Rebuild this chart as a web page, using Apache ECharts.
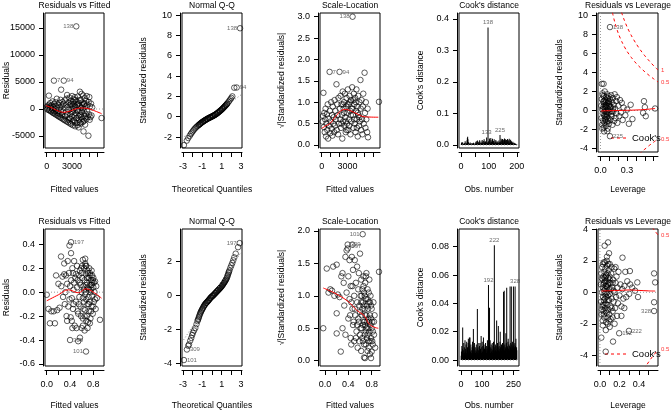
<!DOCTYPE html>
<html><head><meta charset="utf-8">
<script src="https://cdn.jsdelivr.net/npm/echarts@6/dist/echarts.min.js"></script>
<style>html,body{margin:0;padding:0;background:#fff}#c{width:672px;height:413px}</style>
</head><body><div id="c"></div>
<script>
// ================= DATA =================
// Top row model
const rvf1 = [[30,350],[80,-60],[120,620],[180,150],[220,-180],[260,2470],[300,800],[340,-250],[380,420],[420,1100],[470,-380],[520,250],[560,-500],[610,650],[650,-120],[700,1400],[740,-680],[790,320],[830,-780],[860,5250],[880,900],[920,-450],[960,80],[1000,-950],[1040,1250],[1080,-300],[1120,550],[1160,-1100],[1200,1900],[1240,-700],[1280,150],[1320,-1250],[1360,750],[1400,-400],[1440,-1380],[1480,1150],[1520,-900],[1560,300],[1600,-1550],[1640,1700],[1680,-200],[1716,3580],[1740,-1650],[1780,600],[1820,-1100],[1860,1300],[1900,-1850],[1940,-500],[1980,900],[2030,5250],
[2060,-2000],[2100,200],[2140,1600],[2180,-1300],[2220,-2150],[2260,700],[2300,-600],[2340,1900],[2380,-2300],[2420,2600],[2460,-1000],[2500,400],[2540,-2450],[2580,1200],[2620,-200],[2660,-1700],[2700,2100],[2740,-2650],[2780,800],[2820,-900],[2860,1500],[2900,-2800],[2940,100],[2980,-1400],[3020,2400],[3060,600],[3100,-3000],[3140,-500],[3180,1800],[3220,-2100],[3260,1000],[3300,-1200],[3340,2200],[3380,-3200],[3420,300],[3460,-800],[3510,15300],[3540,1400],[3580,-2600],[3620,700],[3660,-1600],[3700,2300],[3740,-300],[3780,-3400],[3820,1100],[3860,-2000],[3900,500],[3940,3200],[3980,-1100],[4020,1700],[4060,-2700],[4100,200],[4140,2800],[4180,-600],[4220,-1800],[4260,1200],[4300,-2400],[4340,2500],[4370,-4150],[4400,-300],[4440,900],[4480,-1300],[4520,2000],[4560,-2900],[4600,400],[4640,-900],[4680,1500],[4720,-1900],[4760,2400],[4800,-400],[4840,800],[4880,-1500],[4950,-4950],[4980,1300],[5020,-1000],[5060,2200],[5100,-2000],[5140,500],[5200,-1500],[5260,1000],[5320,-1200],[5400,300],[6510,-1670],
[2900,900],[3000,-600],[3100,1300],[3200,-100],[3300,500],[3400,1700],[3500,-1700],[3600,-200],[3700,900],[3800,-1300],[3900,1600],[4000,-400],[4100,-1500],[4200,700],[4300,100],[4400,-2200],[4500,1000],[4600,-1600],[3050,-2300],[3350,-2500],[3650,-3000],[3950,-2500],[2800,-1800],[2600,-2000]];
const rvf1Smooth = [[-100,620],[500,300],[860,0],[1500,-450],[2030,-620],[2800,-370],[3400,0],[3980,185],[4760,120],[5540,-250],[6320,-740],[6510,-850]];
const rvf1Labels = [['138',3510,15300],['7',860,5250],['94',2030,5250]];

const qq1 = [[-2.9,-2.8],[-2.6,-2.35],[-2.45,-2.1],[-2.3,-1.88],[-2.2,-1.72],[-2.1,-1.58],[-2.0,-1.45],[-1.9,-1.32],[-1.8,-1.2],[-1.7,-1.1],[-1.6,-1.0],[-1.5,-0.92],[-1.4,-0.84],[-1.3,-0.76],[-1.2,-0.68],[-1.1,-0.6],[-1.0,-0.53],[-0.9,-0.46],[-0.8,-0.4],[-0.7,-0.34],[-0.6,-0.28],[-0.5,-0.22],[-0.4,-0.17],[-0.3,-0.12],[-0.2,-0.07],[-0.1,-0.03],[0.0,0.02],[0.1,0.07],[0.2,0.12],[0.3,0.18],[0.4,0.24],[0.5,0.31],[0.6,0.38],[0.7,0.46],[0.8,0.54],[0.9,0.62],[1.0,0.71],[1.1,0.8],[1.2,0.9],[1.3,1.0],[1.4,1.1],[1.5,1.2],[1.6,1.32],[1.7,1.45],[1.8,1.58],[1.9,1.72],[2.0,1.85],[2.1,2.0],[2.3,2.85],[2.55,2.87],[2.9,8.7],
[-0.95,-0.5],[-0.85,-0.43],[-0.75,-0.37],[-0.65,-0.31],[-0.55,-0.25],[-0.45,-0.2],[-0.35,-0.14],[-0.25,-0.1],[-0.15,-0.05],[-0.05,0.0],[0.05,0.05],[0.15,0.1],[0.25,0.15],[0.35,0.21],[0.45,0.27],[0.55,0.34],[0.65,0.42],[0.75,0.5],[0.85,0.58],[0.95,0.66],[-1.35,-0.8],[-1.25,-0.72],[-1.15,-0.64],[-1.05,-0.56],[1.05,0.75],[1.15,0.85],[1.25,0.95],[1.35,1.05],[1.45,1.15],[1.55,1.26]];
const qq1Line = [[-3.1,-2.12],[3.1,2.22]];
const qq1Labels = [['138',2.9,8.7],['94',2.55,2.87]];

const sl1 = [[100,0.55],[150,0.68],[200,1.22],[250,0.42],[300,0.75],[350,0.3],[400,0.6],[450,0.85],[500,0.2],[550,0.5],[600,0.72],[650,0.35],[700,0.95],[750,0.15],[800,0.62],[850,0.45],[920,1.71],[950,0.8],[1000,0.28],[1050,0.55],[1100,1.0],[1150,0.38],[1200,0.7],[1250,0.22],[1300,0.9],[1350,0.5],[1400,0.65],[1450,0.3],[1500,1.05],[1550,0.45],[1600,0.8],[1650,0.6],[1720,1.42],[1750,0.35],[1800,0.95],[1850,0.7],[1900,0.25],[1950,1.1],[2000,0.5],[2080,1.71],[2100,0.85],[2150,0.6],[2200,1.15],[2250,0.4],[2300,0.95],[2350,0.7],[2400,0.15],[2450,1.25],[2500,0.55],[2550,0.85],[2600,1.0],[2650,0.45],[2700,1.2],[2750,0.65],[2800,0.3],[2850,0.9],[2900,1.1],[2950,0.5],[3000,0.75],[3050,1.3],[3100,0.35],[3150,0.95],[3200,0.6],[3250,1.15],[3300,0.8],[3350,0.25],[3400,1.05],[3450,0.55],[3500,0.85],[3550,1.35],[3600,3.0],[3650,0.7],[3700,0.4],[3750,1.2],[3800,0.95],[3850,0.5],[3900,1.1],[3950,0.3],[4000,0.8],[4050,1.3],[4100,0.6],[4150,0.9],[4200,0.2],[4250,1.15],[4300,0.7],[4350,0.45],[4400,1.0],[4450,0.55],[4520,1.52],[4550,0.85],[4600,0.35],[4650,1.05],[4700,0.6],[4750,0.25],[4800,0.9],[4850,1.2],[4900,0.5],[5000,1.69],[5050,0.75],[5100,0.4],[5150,1.0],[5200,0.6],[5300,0.3],[5350,0.85],[5400,0.18],[6680,1.01],
[2600,0.75],[2800,0.55],[3000,0.95],[3200,0.45],[3400,0.7],[3600,0.85],[3800,0.6],[4000,1.0],[4200,0.75],[4400,0.65],[2900,0.35],[3300,1.0],[3700,1.05],[4100,0.4],[2500,0.95],[2300,0.5]];
const sl1Smooth = [[0,0.39],[500,0.45],[1000,0.51],[1600,0.66],[2400,0.82],[2800,0.83],[3800,0.76],[5000,0.66],[6600,0.65]];
const sl1Labels = [['138',3600,3.0],['7',920,1.71],['94',2080,1.71]];

const cook1 = [.002,.008,.003,.001,.005,.009,.002,.004,.001,.003,
.002,.006,.001,.004,.012,.003,.002,.007,.001,.005,
.003,.015,.022,.026,.018,.004,.009,.002,.006,.001,
.003,.002,.008,.001,.004,.002,.005,.003,.001,.006,
.002,.004,.001,.003,.007,.002,.001,.005,.002,.003,
.001,.004,.009,.002,.012,.003,.006,.001,.014,.004,
.002,.008,.003,.010,.001,.005,.015,.002,.007,.004,
.003,.011,.002,.006,.001,.016,.004,.009,.002,.013,
.005,.003,.018,.002,.008,.011,.004,.011,.003,.006,
.002,.024,.005,.009,.003,.007,.373,.004,.012,.002,
.006,.021,.003,.017,.008,.002,.022,.005,.010,.003,
.015,.004,.020,.002,.009,.006,.013,.003,.018,.004,
.007,.002,.011,.005,.016,.003,.008,.002,.012,.004,
.006,.010,.003,.007,.002,.014,.005,.009,.004,.032,
.003,.011,.006,.020,.004,.015,.008,.002,.019,.005,
.012,.003,.017,.006,.009,.021,.004,.013,.002,.018,
.007,.003,.016,.005,.010,.002,.019,.006,.011,.004,
.015,.003,.020,.007,.002,.014,.005,.017,.009,.003,
.012,.004,.008,.002,.006,.010,.003,.005,.002,.007,
.004,.002,.006,.003,.001,.004,.002,.003,.001,.002];
const cook1Labels = [['138',97,0.373],['133',92,0.024],['225',140,0.032]];

const lev1 = [[0.107,8.76],[0.015,2.8],[0.035,2.8],[0.077,-2.17],[0.107,-2.7],[0.49,0.98],[0.5,0.35],[0.48,-0.25],[0.51,-0.6],[0.615,0.21],
[0.01,0.5],[0.012,-0.8],[0.015,1.2],[0.018,-1.5],[0.02,0.1],[0.022,1.8],[0.025,-0.3],[0.028,0.9],[0.03,-1.1],[0.032,0.4],[0.035,-1.8],[0.038,1.5],[0.04,-0.5],[0.042,0.7],[0.045,-1.3],[0.048,2.0],[0.05,0.2],[0.052,-0.9],[0.055,1.1],[0.058,-0.1],[0.06,-1.6],[0.062,0.6],[0.065,1.4],[0.068,-0.7],[0.07,0.3],[0.072,-1.2],[0.075,1.7],[0.078,-0.4],[0.08,0.8],[0.082,-1.9],[0.085,0.0],[0.088,1.0],[0.09,-0.8],[0.092,1.5],[0.095,-1.4],[0.098,0.5],[0.1,-0.2],[0.105,1.2],[0.11,-1.0],[0.115,0.3],[0.12,1.6],[0.125,-0.6],[0.13,0.9],[0.135,-1.5],[0.14,1.3],[0.145,-0.1],[0.15,0.6],[0.155,-1.1],[0.16,1.7],[0.165,0.2],[0.17,-0.8],[0.175,1.0],[0.18,-0.3],[0.185,1.4],[0.19,-1.3],[0.2,0.5],[0.21,-0.6],[0.22,1.1],[0.23,-0.2],[0.24,0.8],[0.25,-1.0],[0.26,0.3],[0.28,-0.5],[0.3,0.1],[0.32,-1.4],[0.34,0.6],[0.36,-0.9],
[0.03,0.2],[0.04,1.0],[0.05,-0.6],[0.06,0.9],[0.07,-0.2],[0.08,1.3],[0.09,0.1],[0.1,0.7],[0.045,-0.1],[0.055,0.4],[0.065,-0.4],[0.075,0.5],[0.085,-1.1],[0.095,0.9],[0.11,0.4],[0.12,-0.4],[0.13,-0.1],[0.14,0.2],[0.06,-1.0],[0.04,-2.2],[0.025,1.6],[0.02,-1.9]];
const lev1Smooth = [[0.005,-0.05],[0.1,-0.02],[0.2,0.0],[0.3,0.02],[0.4,0.05],[0.5,0.1],[0.615,0.21]];
const lev1Labels = [['138',0.107,8.76],['225',0.107,-2.7]];
const lev1Cook05 = [[0.135,10.28],[0.14,10.07],[0.16,9.31],[0.2,8.12],[0.25,7.04],[0.3,6.2],[0.35,5.54],[0.4,4.97],[0.45,4.49],[0.5,4.06],[0.55,3.67],[0.6,3.32],[0.648,3.0]];
const lev1Cook1 = [[0.237,10.31],[0.26,9.69],[0.3,8.77],[0.35,7.83],[0.4,7.04],[0.45,6.35],[0.5,5.74],[0.55,5.2],[0.6,4.69],[0.648,4.25]];
const lev1Cook05n = [[0.44,-4.58],[0.47,-4.27],[0.5,-4.06],[0.55,-3.67],[0.6,-3.32],[0.648,-3.0]];
const lev1CookLabels = [['1',0.648,4.25],['0.5',0.648,3.0],['0.5',0.648,-3.0]];

// Bottom row model
const rvf2 = [[0.0,-0.022],[0.03,-0.14],[0.055,-0.26],[0.08,-0.16],[0.12,-0.16],[0.14,-0.26],[0.16,0.14],[0.18,-0.15],[0.2,0.07],[0.22,-0.13],[0.245,0.298],[0.25,0.05],[0.27,0.13],[0.28,-0.04],[0.3,0.24],[0.3,0.15],[0.31,-0.1],[0.32,0.0],[0.33,0.14],[0.34,-0.2],[0.35,0.07],[0.36,0.26],[0.37,-0.12],[0.38,0.16],[0.39,0.39],[0.4,-0.4],[0.4,0.05],[0.41,-0.21],[0.417,0.418],[0.417,0.326],[0.42,0.1],[0.43,-0.05],[0.44,0.2],[0.45,-0.14],[0.46,0.02],[0.47,0.26],[0.48,-0.28],[0.49,0.12],[0.5,-0.08],[0.5,0.15],[0.51,-0.3],[0.52,0.04],[0.53,0.1],[0.54,-0.41],[0.54,-0.18],[0.55,0.14],[0.56,-0.04],[0.57,-0.38],[0.57,0.08],[0.58,-0.12],[0.59,0.2],[0.6,-0.3],[0.6,0.0],[0.61,0.12],[0.62,-0.22],[0.62,0.27],[0.63,0.05],[0.64,-0.08],[0.64,0.2],[0.65,-0.32],[0.65,0.1],[0.66,-0.15],[0.66,0.24],[0.67,0.0],[0.674,-0.496],[0.67,0.15],[0.68,-0.06],[0.68,0.22],[0.69,-0.2],[0.69,0.08],[0.7,-0.1],[0.7,0.18],[0.71,0.03],[0.71,-0.25],[0.72,0.12],[0.72,-0.04],[0.73,0.2],[0.73,-0.16],[0.74,0.06],[0.74,-0.08],[0.75,0.14],[0.75,-0.22],[0.76,0.02],[0.76,0.1],[0.77,-0.12],[0.77,0.18],[0.78,-0.03],[0.78,0.08],[0.79,-0.18],[0.8,0.04],[0.8,0.12],[0.81,-0.08],[0.82,0.0],[0.83,0.09],[0.84,-0.14],[0.85,0.05],[0.86,-0.05],[0.914,-0.231],
[0.55,-0.1],[0.58,0.06],[0.6,0.16],[0.62,-0.05],[0.64,0.02],[0.66,-0.02],[0.68,0.06],[0.7,0.04],[0.72,-0.1],[0.74,0.16],[0.76,-0.16],[0.78,0.14],[0.8,-0.12],[0.63,-0.14],[0.67,0.22],[0.71,0.16],[0.75,0.0],[0.79,0.1],[0.83,-0.06],[0.65,-0.2],[0.69,0.12],[0.73,0.02],[0.77,0.06],[0.81,0.08],[0.61,0.22],[0.59,-0.2],[0.57,0.18],[0.53,-0.16],[0.47,0.08],[0.45,0.16],[0.43,-0.24],[0.39,-0.06],[0.35,-0.24],[0.44,-0.3],[0.46,-0.1],[0.52,0.22],[0.7,-0.3],[0.74,-0.26],[0.62,-0.28],[0.66,0.28],[0.68,-0.24]];
const rvf2Smooth = [[0,-0.072],[0.2,-0.022],[0.37,0.02],[0.543,-0.005],[0.67,0.028],[0.8,0.0],[0.94,-0.05]];
const rvf2Labels = [['197',0.417,0.418],['309',0.4,-0.4],['101',0.674,-0.496]];

const qq2 = [[-2.9,-3.79],[-2.59,-3.17],[-2.45,-2.95],[-2.38,-2.87],[-2.25,-2.65],[-2.14,-2.49],[-2.05,-2.32],[-1.97,-2.19],[-1.85,-2.05],[-1.72,-1.9],[-1.6,-1.68],[-1.5,-1.5],[-1.4,-1.35],[-1.3,-1.18],[-1.2,-1.02],[-1.1,-0.9],[-1.0,-0.79],[-0.9,-0.68],[-0.8,-0.58],[-0.7,-0.5],[-0.6,-0.43],[-0.5,-0.37],[-0.4,-0.31],[-0.3,-0.24],[-0.2,-0.16],[-0.1,-0.1],[0.0,-0.05],[0.1,0.0],[0.2,0.06],[0.3,0.12],[0.4,0.18],[0.5,0.24],[0.6,0.3],[0.7,0.36],[0.8,0.42],[0.9,0.48],[1.0,0.55],[1.1,0.63],[1.2,0.72],[1.3,0.8],[1.4,0.9],[1.5,1.0],[1.6,1.15],[1.7,1.32],[1.8,1.48],[1.9,1.64],[2.0,1.78],[2.1,1.92],[2.2,2.08],[2.3,2.25],[2.45,2.47],[2.69,2.85],[2.86,3.09],
[-0.95,-0.74],[-0.85,-0.63],[-0.75,-0.54],[-0.65,-0.46],[-0.55,-0.4],[-0.45,-0.34],[-0.35,-0.27],[-0.25,-0.2],[-0.15,-0.13],[-0.05,-0.07],[0.05,-0.02],[0.15,0.03],[0.25,0.09],[0.35,0.15],[0.45,0.21],[0.55,0.27],[0.65,0.33],[0.75,0.39],[0.85,0.45],[0.95,0.52],[-1.45,-1.42],[-1.35,-1.26],[-1.25,-1.1],[-1.15,-0.96],[-1.05,-0.84],[1.05,0.59],[1.15,0.67],[1.25,0.76],[1.35,0.85],[1.45,0.95],[1.55,1.07],[1.65,1.23],[1.75,1.4]];
const qq2Line = [[-3.1,-2.75],[3.1,2.64]];
const qq2Labels = [['101',-2.9,-3.79],['309',-2.59,-3.17],['197',2.86,3.09]];

const sl2 = [[-0.03,0.5],[0.03,1.42],[0.06,1.05],[0.09,1.1],[0.12,1.08],[0.14,1.45],[0.16,1.0],[0.2,1.48],[0.2,0.73],[0.2,0.42],[0.22,1.02],[0.25,0.98],[0.27,0.14],[0.28,1.3],[0.3,1.35],[0.3,0.5],[0.32,1.2],[0.33,0.85],[0.35,1.6],[0.35,0.4],[0.37,1.7],[0.37,1.05],[0.389,1.79],[0.389,1.73],[0.4,0.65],[0.4,1.3],[0.42,1.55],[0.42,0.95],[0.44,0.35],[0.44,1.15],[0.45,0.25],[0.46,1.6],[0.469,1.79],[0.47,0.8],[0.48,1.4],[0.48,0.55],[0.5,1.0],[0.5,0.3],[0.51,1.55],[0.52,0.7],[0.53,1.2],[0.54,0.45],[0.55,0.9],[0.55,1.45],[0.56,0.2],[0.57,1.1],[0.58,0.6],[0.58,1.35],[0.59,0.85],[0.6,1.65],[0.6,0.4],[0.61,1.0],[0.62,0.15],[0.62,1.25],[0.63,0.7],[0.63,0.5],[0.64,1.1],[0.646,1.95],[0.65,0.3],[0.65,0.9],[0.66,1.3],[0.66,0.6],[0.67,0.05],[0.67,1.05],[0.68,0.4],[0.68,0.8],[0.686,0.04],[0.69,1.2],[0.69,0.55],[0.7,0.25],[0.7,0.95],[0.71,0.7],[0.71,1.35],[0.72,0.35],[0.72,0.85],[0.73,0.15],[0.73,1.1],[0.74,0.5],[0.74,0.65],[0.75,0.9],[0.75,0.3],[0.76,1.25],[0.76,0.45],[0.77,0.7],[0.77,0.1],[0.78,0.55],[0.78,1.0],[0.789,0.04],[0.79,0.35],[0.8,0.8],[0.8,0.14],[0.81,0.6],[0.82,0.25],[0.83,0.9],[0.84,0.4],[0.85,0.7],[0.86,0.2],[0.926,1.37],
[0.6,0.75],[0.62,0.9],[0.64,0.35],[0.66,0.85],[0.68,0.6],[0.7,0.45],[0.72,0.6],[0.74,0.8],[0.76,0.6],[0.78,0.3],[0.8,0.5],[0.82,0.45],[0.65,0.55],[0.67,0.25],[0.69,0.7],[0.71,0.5],[0.73,0.4],[0.75,0.2],[0.77,0.9],[0.79,0.65],[0.63,1.0],[0.61,0.5],[0.59,0.3],[0.57,0.65],[0.55,0.55],[0.53,0.35],[0.51,0.8],[0.49,0.6],[0.47,1.15],[0.45,0.9],[0.43,0.7],[0.7,1.3],[0.68,1.0],[0.66,1.15],[0.64,0.8],[0.73,0.95],[0.75,1.05],[0.79,0.85],[0.81,0.3],[0.84,0.6]];
const sl2Smooth = [[-0.03,1.12],[0.17,1.04],[0.4,0.91],[0.543,0.78],[0.686,0.68],[0.743,0.58],[0.829,0.52],[0.914,0.5]];
const sl2Labels = [['101',0.646,1.95],['309',0.389,1.79],['197',0.4,1.76]];

const cook2 = [.003,.006,.002,.010,.004,.001,.008,.023,.005,.002,
.007,.003,.012,.002,.005,.009,.001,.004,.014,.006,
.002,.008,.003,.011,.005,.001,.013,.004,.007,.002,
.009,.003,.006,.012,.015,.004,.002,.010,.005,.016,
.003,.008,.016,.002,.006,.004,.011,.001,.005,.003,
.007,.002,.009,.004,.013,.006,.003,.010,.022,.005,
.002,.008,.004,.012,.001,.006,.003,.009,.005,.002,
.007,.004,.011,.003,.006,.002,.008,.036,.005,.003,
.009,.004,.002,.007,.012,.005,.003,.010,.006,.002,
.012,.004,.008,.003,.006,.017,.005,.002,.009,.004,
.013,.006,.003,.010,.005,.002,.016,.007,.004,.011,
.003,.008,.005,.002,.009,.006,.012,.004,.007,.003,
.010,.005,.002,.008,.004,.014,.006,.003,.009,.005,
.053,.007,.004,.010,.006,.037,.003,.008,.014,.005,
.002,.009,.004,.011,.006,.003,.008,.005,.012,.004,
.007,.002,.010,.005,.013,.003,.008,.006,.081,.004,
.009,.005,.002,.011,.007,.004,.010,.003,.006,.028,
.005,.008,.003,.012,.006,.004,.009,.024,.005,.007,
.003,.010,.006,.002,.008,.013,.020,.005,.009,.004,
.007,.003,.011,.006,.002,.009,.005,.012,.004,.008,
.006,.003,.048,.010,.005,.049,.007,.004,.011,.006,
.009,.003,.008,.019,.005,.012,.004,.051,.007,.010,
.003,.009,.006,.013,.015,.004,.008,.005,.011,.007,
.003,.010,.006,.052,.004,.009,.012,.005,.008,.052,
.006,.011,.004,.009,.007,.013,.005,.010,.006,.052,
.008,.004,.011,.007,.009,.005,.012,.052,.006,.010,
.004,.015,.008,.005,.009,.007];
const cook2Labels = [['222',159,0.081],['192',131,0.053],['328',258,0.052]];

const lev2 = [[0.083,3.17],[0.048,2.96],[0.093,2.48],[0.072,2.26],[0.231,2.2],[0.031,1.78],[0.555,1.2],[0.566,0.63],[0.555,-0.63],[0.555,-1.19],[0.014,-2.88],[0.134,-3.13],[0.059,-3.77],[0.197,-2.6],[0.297,-2.45],[0.307,1.35],[0.383,0.63],[0.31,0.5],[0.33,0.3],[0.36,0.1],[0.39,-0.3],[0.3,-0.1],[0.27,-0.3],[0.26,1.3],[0.28,0.7],[0.22,-1.5],[0.25,-1.0],[0.06,-2.4],[0.1,-2.2],[0.03,-2.1],[0.15,-2.0],
[0.01,0.5],[0.012,-0.6],[0.015,1.2],[0.017,-1.4],[0.02,0.0],[0.022,1.6],[0.024,-0.9],[0.026,0.8],[0.028,-1.8],[0.03,0.3],[0.032,-0.3],[0.034,1.0],[0.036,-1.2],[0.038,1.9],[0.04,-0.5],[0.042,0.6],[0.044,-1.6],[0.046,1.3],[0.048,-0.1],[0.05,0.9],[0.052,-1.0],[0.054,0.2],[0.056,1.5],[0.058,-0.7],[0.06,0.4],[0.062,-1.9],[0.064,1.1],[0.066,-0.3],[0.068,0.7],[0.07,-1.3],[0.072,1.7],[0.074,0.0],[0.076,-0.8],[0.078,1.2],[0.08,-1.6],[0.082,0.5],[0.084,-0.2],[0.086,0.9],[0.088,-1.1],[0.09,1.4],[0.092,-0.5],[0.094,0.2],[0.096,-1.4],[0.098,1.0],[0.1,-0.1],[0.105,0.6],[0.11,-0.9],[0.115,1.2],[0.12,-0.4],[0.125,0.3],[0.13,-1.2],[0.135,0.8],[0.14,-0.6],[0.145,1.5],[0.15,0.0],[0.155,-1.0],[0.16,0.6],[0.165,-0.3],[0.17,1.0],[0.175,-1.5],[0.18,0.3],[0.185,-0.7],[0.19,1.3],[0.2,-0.2],[0.21,0.5],[0.22,-0.9],[0.23,0.2],[0.24,-0.4],[0.25,0.4],
[0.02,0.9],[0.03,-0.8],[0.04,0.1],[0.05,-0.4],[0.06,1.0],[0.07,0.4],[0.08,-0.5],[0.09,0.6],[0.1,0.8],[0.11,0.2],[0.12,-1.0],[0.13,0.6],[0.14,0.1],[0.05,1.9],[0.07,2.0],[0.1,1.8],[0.12,1.6],[0.16,1.6],[0.04,-1.4],[0.06,-1.2],[0.08,-2.0],[0.11,-1.7],[0.13,-1.6],[0.02,-1.1],[0.035,0.5],[0.045,-0.8],[0.055,0.7],[0.065,-0.1],[0.075,0.3],[0.085,1.8],[0.095,-1.8]];
const lev2Smooth = [[0.014,0.08],[0.1,0.1],[0.2,0.12],[0.3,0.15],[0.4,0.12],[0.5,0.09],[0.566,0.08]];
const lev2Labels = [['328',0.555,-1.19],['192',0.197,-2.6],['222',0.297,-2.45]];
const lev2Cook05 = [[0.535,4.12],[0.56,3.92],[0.58,3.76],[0.595,3.64]];
const lev2Cook05n = [[0.45,-4.88],[0.48,-4.6],[0.5,-4.42],[0.52,-4.24],[0.54,-4.07],[0.56,-3.92],[0.58,-3.76],[0.595,-3.64]];
const lev2CookLabels = [['0.5',0.595,3.64],['0.5',0.595,-3.64]];

// ================= LAYOUT =================
const FONT = '"Liberation Sans", Arial, Helvetica, sans-serif';
const r = (a,b,s)=>{const o=[];for(let v=a;v<=b+1e-9;v+=s)o.push(+v.toFixed(6));return o;};
const P = [
 {b:[45,13,59,135], xr:[-200,6800], yr:[-7222,17778], xt:r(0,6000,1000), xl:[0,3000], yt:[-5000,0,5000,10000,15000], xd:0, yd:0, title:'Residuals vs Fitted', xn:'Fitted values', yn:'Residuals'},
 {b:[182,13,60,135], xr:[-3.1,3.1], yr:[-3.08,10.2], xt:[-3,-2,-1,0,1,2,3], xl:[-3,-1,1,3], yt:[-2,0,2,4,6,8,10], xd:0, yd:0, title:'Normal Q-Q', xn:'Theoretical Quantiles', yn:'Standardized residuals'},
 {b:[320,13,60,135], xr:[-200,6800], yr:[-0.07,3.087], xt:r(0,6000,1000), xl:[0,3000], yt:[0,0.5,1,1.5,2,2.5,3], xd:0, yd:1, title:'Scale-Location', xn:'Fitted values', yn:'√|Standardized residuals|'},
 {b:[459,13,60,135], xr:[-7,208], yr:[-0.0095,0.419], xt:[0,50,100,150,200], xl:[0,100,200], yt:[0,0.1,0.2,0.3,0.4], xd:0, yd:1, title:"Cook's distance", xn:'Obs. number', yn:"Cook's distance"},
 {b:[598,13,60,139], xr:[-0.028,0.648], yr:[-4.36,10.24], xt:[0,0.1,0.2,0.3,0.4,0.5,0.6], xl:[0,0.3], yt:[-4,-2,0,2,4,6,8,10], xd:1, yd:0, title:'Residuals vs Leverage', xn:'Leverage', yn:'Standardized residuals'},
 {b:[45,229,59,137], xr:[-0.03,0.983], yr:[-0.617,0.528], xt:[0,0.2,0.4,0.6,0.8], xl:[0,0.4,0.8], yt:[-0.6,-0.4,-0.2,0,0.2,0.4], xd:1, yd:1, title:'Residuals vs Fitted', xn:'Fitted values', yn:'Residuals'},
 {b:[182,229,60,137], xr:[-3.1,3.1], yr:[-4.14,3.92], xt:[-3,-2,-1,0,1,2,3], xl:[-3,-1,1,3], yt:[-4,-2,0,2], xd:0, yd:0, title:'Normal Q-Q', xn:'Theoretical Quantiles', yn:'Standardized residuals'},
 {b:[320,229,60,137], xr:[-0.086,0.943], yr:[-0.082,2.03], xt:[0,0.2,0.4,0.6,0.8], xl:[0,0.4,0.8], yt:[0,0.5,1,1.5,2], xd:1, yd:1, title:'Scale-Location', xn:'Fitted values', yn:'√|Standardized residuals|'},
 {b:[459,229,60,137], xr:[-9.6,276.6], yr:[-0.0042,0.0925], xt:[0,50,100,150,200,250], xl:[0,100,250], yt:[0,0.02,0.04,0.06,0.08], xd:0, yd:2, title:"Cook's distance", xn:'Obs. number', yn:"Cook's distance"},
 {b:[598,229,60,137], xr:[-0.02,0.595], yr:[-4.68,4.02], xt:[0,0.1,0.2,0.3,0.4,0.5], xl:[0,0.2,0.4], yt:[-4,-2,0,2,4], xd:1, yd:0, title:'Residuals vs Leverage', xn:'Leverage', yn:'Standardized residuals'}
];

const grids=[], xAxes=[], yAxes=[], series=[], graphic=[];
P.forEach((p,i)=>{
  const [l,t,w,h]=p.b;
  grids.push({left:l,top:t,width:w,height:h,show:true,borderColor:'#000',borderWidth:1,backgroundColor:'rgba(0,0,0,0)'});
  const lab = d => ({fontSize:9,color:'#000',fontFamily:FONT,formatter:v=>Number(v).toFixed(d)});
  xAxes.push({type:'value',gridIndex:i,min:p.xr[0],max:p.xr[1],offset:4,
    axisLine:{show:true,onZero:false,lineStyle:{color:'#000',width:1}},
    axisTick:{show:true,length:5,customValues:p.xt,lineStyle:{color:'#000',width:1}},
    axisLabel:Object.assign({margin:10,customValues:p.xl},lab(p.xd)),
    splitLine:{show:false}});
  yAxes.push({type:'value',gridIndex:i,min:p.yr[0],max:p.yr[1],offset:2,
    axisLine:{show:true,onZero:false,lineStyle:{color:'#000',width:1}},
    axisTick:{show:true,length:4,customValues:p.yt,lineStyle:{color:'#000',width:1}},
    axisLabel:Object.assign({margin:8,customValues:p.yt},lab(p.yd)),
    splitLine:{show:false}});
  graphic.push({type:'text',x:l+w/2,y:t-7,style:{text:p.title,fontSize:8.5,fontFamily:FONT,fill:'#000',align:'center',verticalAlign:'middle',textAlign:'center',textVerticalAlign:'middle'}});
  graphic.push({type:'text',x:l+w/2,y:(i<5?190:406),style:{text:p.xn,fontSize:8.5,fontFamily:FONT,fill:'#000',align:'center',verticalAlign:'middle',textAlign:'center',textVerticalAlign:'middle'}});
  graphic.push({type:'text',x:l-38,y:t+h/2,rotation:Math.PI/2,style:{text:p.yn,fontSize:8.5,fontFamily:FONT,fill:'#000',align:'center',verticalAlign:'middle',textAlign:'center',textVerticalAlign:'middle'}});
});

function pts(i,data){series.push({type:'scatter',xAxisIndex:i,yAxisIndex:i,data:data,symbol:'circle',symbolSize:5.5,silent:true,z:3,
  itemStyle:{color:'rgba(0,0,0,0)',borderColor:'#000',borderWidth:0.8}});}
function line(i,data,color,dash,smooth){series.push({type:'line',xAxisIndex:i,yAxisIndex:i,data:data,symbol:'none',silent:true,z:4,smooth:smooth||false,
  lineStyle:{color:color,width:1,type:dash||'solid'}});}
function labels(i,arr,sides,color,size){series.push({type:'scatter',xAxisIndex:i,yAxisIndex:i,symbolSize:0,silent:true,z:5,clip:false,
  data:arr.map((a,k)=>({value:[a[1],a[2]],label:{show:true,formatter:a[0],position:sides[k],distance:(sides[k]==='top'?2:3)}})),
  label:{fontSize:size||6,color:color||'#444',fontFamily:FONT}});}
function bars(i,vals){series.push({type:'bar',xAxisIndex:i,yAxisIndex:i,data:vals.map((v,k)=>[k+1,v]),barWidth:1,silent:true,z:3,
  itemStyle:{color:'#000'}});}
function hline(i,y){const p=P[i];line(i,[[p.xr[0],y],[p.xr[1],y]],'#9a9a9a',[1,2]);}
function vline(i,x){const p=P[i];line(i,[[x,p.yr[0]],[x,p.yr[1]]],'#9a9a9a',[1,2]);}

// Top row
hline(0,0); pts(0,rvf1); line(0,rvf1Smooth,'#ff0000','solid',0.4); labels(0,rvf1Labels,['left','right','right']);
line(1,qq1Line,'#8a8a8a',[1,2]); pts(1,qq1); labels(1,qq1Labels,['left','right']);
pts(2,sl1); line(2,sl1Smooth,'#ff0000','solid',0.4); labels(2,sl1Labels,['left','right','right']);
bars(3,cook1); hline(3,0); labels(3,cook1Labels,['top','top','top']);
hline(4,0); vline(4,0); pts(4,lev1); line(4,lev1Smooth,'#ff0000','solid',0.3);
line(4,lev1Cook05,'#ff0000',[3,3],0.3); line(4,lev1Cook1,'#ff0000',[3,3],0.3); line(4,lev1Cook05n,'#ff0000',[3,3],0.3);
labels(4,lev1Labels,['right','right']); labels(4,lev1CookLabels,['right','right','right'],'#ff0000',6);
// Bottom row
hline(5,0); pts(5,rvf2); line(5,rvf2Smooth,'#ff0000','solid',0.4); labels(5,rvf2Labels,['right','right','left']);
line(6,qq2Line,'#8a8a8a',[1,2]); pts(6,qq2); labels(6,qq2Labels,['right','right','left']);
pts(7,sl2); line(7,sl2Smooth,'#ff0000','solid',0.4); labels(7,sl2Labels,['left','right','right']);
bars(8,cook2); hline(8,0); labels(8,cook2Labels,['top','top','top']);
hline(9,0); vline(9,0); pts(9,lev2); line(9,lev2Smooth,'#ff0000','solid',0.3);
line(9,lev2Cook05,'#ff0000',[3,3],0.3); line(9,lev2Cook05n,'#ff0000',[3,3],0.3);
labels(9,lev2Labels,['left','right','right']); labels(9,lev2CookLabels,['right','right'],'#ff0000',6);

// legends "Cook's distance" (clipped in the original)
graphic.push({type:'line',shape:{x1:611,y1:138,x2:629,y2:138},style:{stroke:'#ff0000',lineWidth:1,lineDash:[3,3]}});
graphic.push({type:'text',x:632,y:138,style:{text:"Cook's",fontSize:9.5,fontFamily:FONT,fill:'#000',align:'left',verticalAlign:'middle',textAlign:'left',textVerticalAlign:'middle'}});
graphic.push({type:'line',shape:{x1:605,y1:354,x2:627,y2:354},style:{stroke:'#ff0000',lineWidth:1,lineDash:[3,3]}});
graphic.push({type:'text',x:632,y:354,style:{text:"Cook's",fontSize:9.5,fontFamily:FONT,fill:'#000',align:'left',verticalAlign:'middle',textAlign:'left',textVerticalAlign:'middle'}});

const chart = echarts.init(document.getElementById('c'),null,{renderer:'canvas'});
chart.setOption({animation:false,backgroundColor:'#fff',grid:grids,xAxis:xAxes,yAxis:yAxes,series:series,graphic:graphic});
</script></body></html>
